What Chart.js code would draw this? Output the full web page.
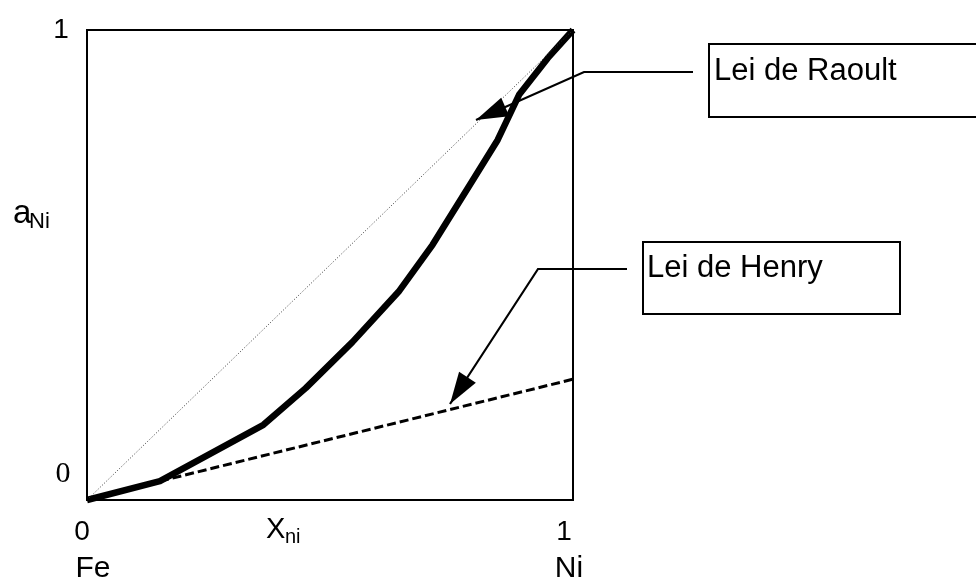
<!DOCTYPE html>
<html>
<head>
<meta charset="utf-8">
<script src="https://cdn.jsdelivr.net/npm/chart.js@4/dist/chart.umd.min.js"></script>
<style>
  html, body { margin: 0; padding: 0; background: #fff; }
  #wrap { width: 976px; height: 579px; }
</style>
</head>
<body>
<div id="wrap"><canvas id="chart" width="976" height="579"></canvas></div>
<script>
// dados (fração molar de Ni -> atividade)
var xNi      = [0, 0.15, 0.363, 0.45, 0.546, 0.641, 0.711, 0.794, 0.845, 0.889, 0.948, 1];
var aNi      = [0, 0.04, 0.16, 0.238, 0.336, 0.443, 0.543, 0.681, 0.766, 0.862, 0.94, 1];
var raoultX  = [0, 1];
var raoultY  = [0, 1];
var henryX   = [0.15, 1];
var henryY   = [0.04, 0.257];
var xTickLabels = ['0', '1'];
var xEndLabels  = ['Fe', 'Ni'];
var yTickLabels = ['0', '1'];

function pts(xs, ys) {
  return xs.map(function(x, i){ return {x: x, y: ys[i]}; });
}

// seta com cabeça preenchida
function arrow(ctx, path) {
  ctx.save();
  ctx.strokeStyle = '#000';
  ctx.fillStyle = '#000';
  ctx.lineWidth = 2.2;
  ctx.beginPath();
  ctx.moveTo(path[0][0], path[0][1]);
  for (var i = 1; i < path.length; i++) ctx.lineTo(path[i][0], path[i][1]);
  ctx.stroke();
  var a = path[path.length - 2], b = path[path.length - 1];
  var ang = Math.atan2(b[1] - a[1], b[0] - a[0]);
  var len = 32, w = 10;
  ctx.beginPath();
  ctx.moveTo(b[0], b[1]);
  ctx.lineTo(b[0] - len * Math.cos(ang) + w * Math.sin(ang), b[1] - len * Math.sin(ang) - w * Math.cos(ang));
  ctx.lineTo(b[0] - len * Math.cos(ang) - w * Math.sin(ang), b[1] - len * Math.sin(ang) + w * Math.cos(ang));
  ctx.closePath();
  ctx.fill();
  ctx.restore();
}

var extras = {
  id: 'extras',
  afterDraw: function(chart) {
    var ctx = chart.ctx;
    var area = chart.chartArea;
    var sx = chart.scales.x, sy = chart.scales.y;
    var sans = '"Liberation Sans", Arial, Helvetica, sans-serif';

    ctx.save();
    // moldura do gráfico
    ctx.strokeStyle = '#000';
    ctx.lineWidth = 2;
    ctx.strokeRect(area.left, area.top, area.right - area.left, area.bottom - area.top);

    ctx.fillStyle = '#000';
    ctx.textBaseline = 'alphabetic';

    // rótulos do eixo y
    ctx.textAlign = 'center';
    ctx.font = '28px ' + sans;
    ctx.fillText(yTickLabels[1], 61, sy.getPixelForValue(1) + 8);
    ctx.font = '30px "Liberation Serif", "Times New Roman", serif';
    ctx.fillText(yTickLabels[0], 63, sy.getPixelForValue(0) - 18);

    // rótulos do eixo x
    ctx.font = '28px ' + sans;
    ctx.fillText(xTickLabels[0], sx.getPixelForValue(0) - 5, 540);
    ctx.fillText(xTickLabels[1], sx.getPixelForValue(1) - 9, 540);
    ctx.font = '30px ' + sans;
    ctx.fillText(xEndLabels[0], sx.getPixelForValue(0) + 6, 577);
    ctx.fillText(xEndLabels[1], sx.getPixelForValue(1) - 4, 577);

    // títulos dos eixos
    ctx.textAlign = 'left';
    ctx.font = '29px ' + sans;
    ctx.fillText('X', 266, 538);
    ctx.font = '20px ' + sans;
    ctx.fillText('ni', 285, 543);
    ctx.font = '33px ' + sans;
    ctx.fillText('a', 13, 223);
    ctx.font = '22px ' + sans;
    ctx.fillText('Ni', 29, 228);

    // caixas de legenda
    ctx.lineWidth = 2;
    ctx.strokeRect(709, 44, 280, 73);
    ctx.strokeRect(643, 242, 257, 72);
    ctx.font = '31px ' + sans;
    ctx.fillText('Lei de Raoult', 714, 80);
    ctx.fillText('Lei de Henry', 647, 277);
    ctx.restore();

    arrow(ctx, [[693, 72], [584, 72], [476, 120]]);
    arrow(ctx, [[627, 269], [538, 269], [450, 404]]);
  }
};

var ctx = document.getElementById('chart');
new Chart(ctx, {
  type: 'scatter',
  data: {
    datasets: [
      {
        data: pts(raoultX, raoultY),
        showLine: true,
        borderColor: '#333',
        borderWidth: 1,
        borderDash: [1, 2],
        pointRadius: 0
      },
      {
        data: pts(henryX, henryY),
        showLine: true,
        borderColor: '#000',
        borderWidth: 3,
        borderDash: [9, 4],
        pointRadius: 0
      },
      {
        data: pts(xNi, aNi),
        showLine: true,
        borderColor: '#000',
        borderWidth: 6.5,
        borderJoinStyle: 'round',
        pointRadius: 0,
        clip: false
      }
    ]
  },
  options: {
    responsive: false,
    animation: false,
    layout: { padding: { left: 87, top: 30, right: 403, bottom: 79 } },
    plugins: { legend: { display: false }, tooltip: { enabled: false } },
    scales: {
      x: { type: 'linear', min: 0, max: 1, display: false },
      y: { type: 'linear', min: 0, max: 1, display: false }
    }
  },
  plugins: [extras]
});
</script>
</body>
</html>
